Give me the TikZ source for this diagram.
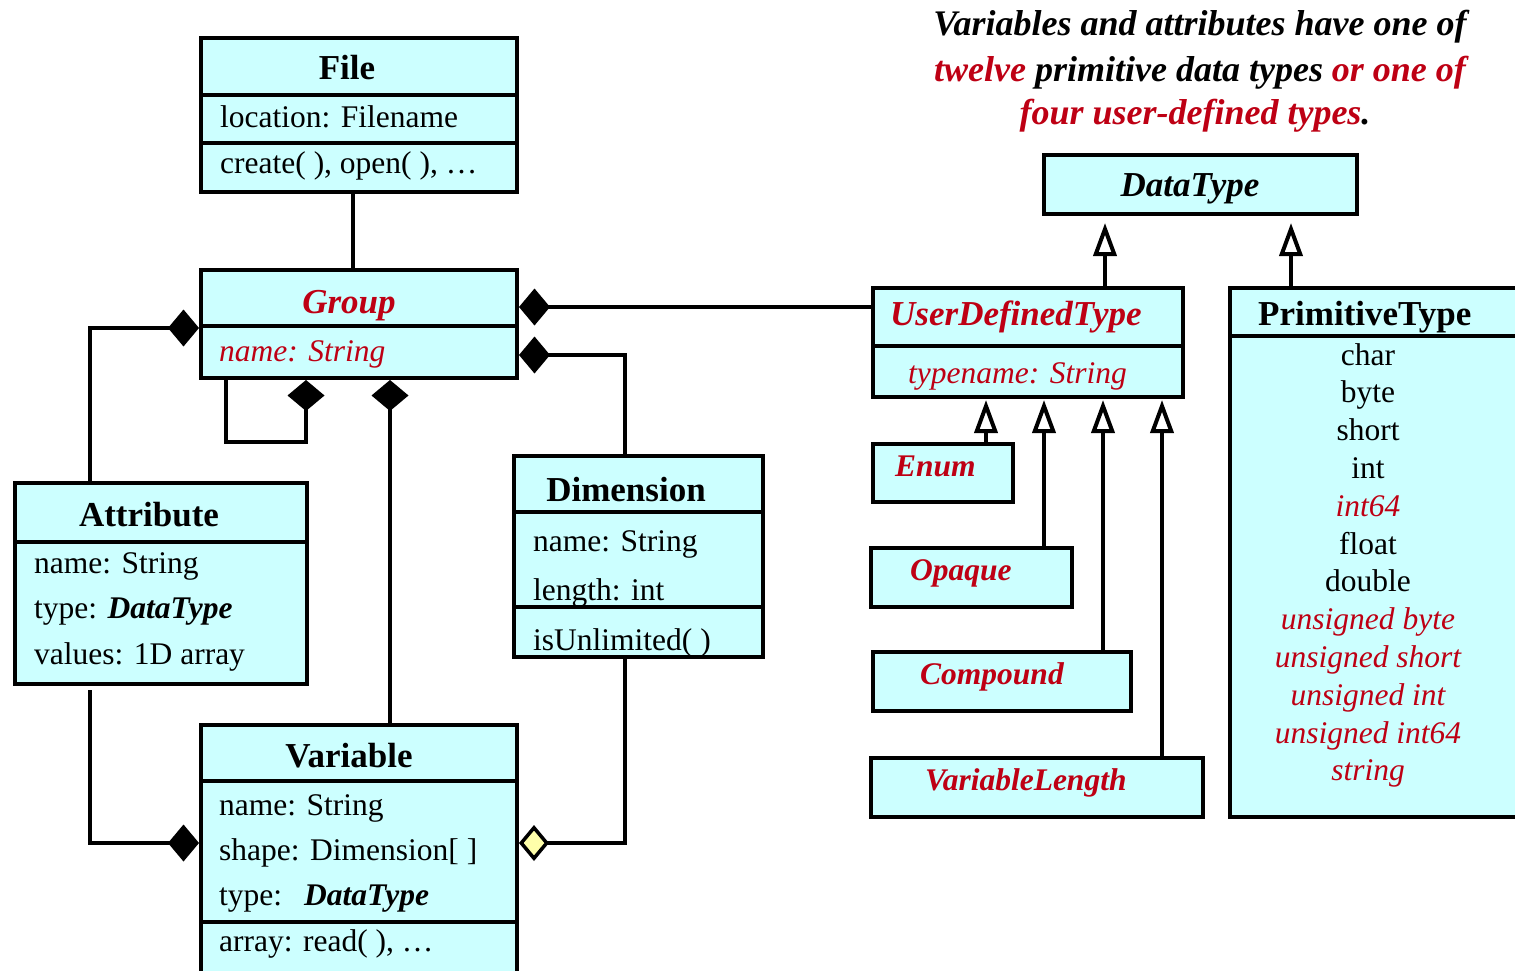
\documentclass[tikz,border=0pt]{standalone}
\usepackage{fontspec}
\setmainfont{Liberation Serif}
\usetikzlibrary{arrows.meta}

\definecolor{umlcyan}{RGB}{204,255,255}
\definecolor{umlred}{RGB}{190,0,20}
\definecolor{aggyellow}{RGB}{255,255,170}

\tikzset{
  box/.style={draw, line width=4pt, fill=umlcyan, anchor=north west, outer sep=0pt, inner sep=0pt},
  clsname/.style={anchor=base, inner sep=0pt, font=\fontsize{35}{40}\selectfont\bfseries},
  clsnameit/.style={clsname, font=\fontsize{35}{40}\selectfont\bfseries\itshape},
  subname/.style={anchor=base west, inner sep=0pt, text=umlred, font=\fontsize{31.5}{38}\selectfont\bfseries\itshape},
  row/.style={anchor=base west, inner sep=0pt, font=\fontsize{31.5}{38}\selectfont},
  rowit/.style={row, text=umlred, font=\fontsize{31.5}{38}\selectfont\itshape},
  prow/.style={anchor=base, inner sep=0pt, font=\fontsize{31.5}{38}\selectfont},
  prowit/.style={prow, text=umlred, font=\fontsize{31.5}{38}\selectfont\itshape},
  notetext/.style={anchor=base, inner sep=0pt, font=\fontsize{36}{45}\selectfont\bfseries\itshape},
  conn/.style={line width=4pt},
  comp/.tip={Diamond[length=31pt,width=37pt]},
  agg/.tip={Diamond[length=30pt,width=36pt,fill=aggyellow,line width=3.5pt]},
  gen/.tip={Triangle[open,length=33pt,width=23pt,line width=4pt]},
}

\begin{document}
\begin{tikzpicture}[x=1pt,y=-1pt]
  \path[use as bounding box, fill=white] (0,0) rectangle (1515,971);

  % class boxes, one node per compartment
  \node[box, minimum width=316pt, minimum height=57pt] (file) at (201,38) {};
  \node[box, minimum width=316pt, minimum height=48pt] (fileattr) at (201,95) {};
  \node[box, minimum width=316pt, minimum height=49pt] (fileops) at (201,143) {};

  \node[box, minimum width=316pt, minimum height=56pt] (grp) at (201,270) {};
  \node[box, minimum width=316pt, minimum height=52pt] (grpattr) at (201,326) {};

  \node[box, minimum width=292pt, minimum height=59pt] (attr) at (15,483) {};
  \node[box, minimum width=292pt, minimum height=142pt] (attrattr) at (15,542) {};

  \node[box, minimum width=249pt, minimum height=56pt] (dim) at (514,456) {};
  \node[box, minimum width=249pt, minimum height=95pt] (dimattr) at (514,512) {};
  \node[box, minimum width=249pt, minimum height=50pt] (dimops) at (514,607) {};

  \node[box, minimum width=316pt, minimum height=56pt] (var) at (201,725) {};
  \node[box, minimum width=316pt, minimum height=141pt] (varattr) at (201,781) {};
  \node[box, minimum width=316pt, minimum height=54pt] (varops) at (201,922) {};

  \node[box, minimum width=313pt, minimum height=59pt] (dtype) at (1044,155) {};

  \node[box, minimum width=310pt, minimum height=58pt] (udt) at (873,288) {};
  \node[box, minimum width=310pt, minimum height=51pt] (udtattr) at (873,346) {};

  \node[box, minimum width=300pt, minimum height=48pt] (prim) at (1230,288) {};
  \node[box, minimum width=300pt, minimum height=481pt] (primattr) at (1230,336) {};

  \node[box, minimum width=140pt, minimum height=58pt] (enum) at (873,444) {};
  \node[box, minimum width=201pt, minimum height=59pt] (opaque) at (871,548) {};
  \node[box, minimum width=258pt, minimum height=59pt] (compound) at (873,652) {};
  \node[box, minimum width=332pt, minimum height=59pt] (varlen) at (871,758) {};

  % associations
  \draw[conn] ([xshift=-6pt]fileops.south) -- ([xshift=-6pt]grp.north);
  \draw[conn, {comp}-, shorten <=2pt] ([yshift=-9pt]grp.east) -- ([yshift=10pt]udt.west);
  \draw[conn, {comp}-, shorten <=2pt] ([yshift=-3pt]grpattr.east) -| ([xshift=-13.5pt]dim.north);
  \draw[conn, -{comp}, shorten >=2pt] ([xshift=25pt]grpattr.south west) -- ++(0,64) -| ([xshift=105pt]grpattr.south west);
  \draw[conn, {comp}-, shorten <=2pt] ([xshift=31pt]grpattr.south) -- ([xshift=31pt]var.north);
  \draw[conn, {comp}-, shorten <=2pt] ([yshift=-2pt]grp.south west) -| ([xshift=-71pt]attr.north);
  \draw[conn, -{comp}, shorten <=6pt, shorten >=2pt] ([xshift=-71pt]attrattr.south) |- ([yshift=8.5pt]varattr.west);
  \draw[conn, -{agg}, shorten >=2pt] ([xshift=-13.5pt]dimops.south) |- ([yshift=8.5pt]varattr.east);

  % generalisations
  \draw[conn, -{gen}, shorten >=9pt] ([xshift=77pt]udt.north) -- ([xshift=-95.5pt]dtype.south);
  \draw[conn, -{gen}, shorten >=9pt] ([xshift=-89pt]prim.north) -- ([xshift=90.5pt]dtype.south);
  \draw[conn, -{gen}, shorten >=3pt] ([xshift=43pt]enum.north) -- ([xshift=-42pt]udtattr.south);
  \draw[conn, -{gen}, shorten >=3pt] ([xshift=72.5pt]opaque.north) -- ([xshift=16pt]udtattr.south);
  \draw[conn, -{gen}, shorten >=3pt] ([xshift=101pt]compound.north) -- ([xshift=75pt]udtattr.south);
  \draw[conn, -{gen}, shorten >=3pt] ([xshift=125pt]varlen.north) -- ([xshift=134pt]udtattr.south);

  % texts
  \node[clsname] (filename) at (347,80) {File};
  \node[row] (fileloc) at (220,128) {location: Filename};
  \node[row] (fileop) at (220,173) {create( ), open( ), …};

  \node[clsnameit, text=umlred] (grpname) at (349,313) {Group};
  \node[rowit] (grpnm) at (219,361) {name: String};

  \node[clsname] (attrname) at (149,526) {Attribute};
  \node[row] (attrnm) at (34,573) {name: String};
  \node[row] (attrtype) at (34,618) {type: \textbf{\textit{DataType}}};
  \node[row] (attrval) at (34,664) {values: 1D array};

  \node[clsname] (dimname) at (626,501) {Dimension};
  \node[row] (dimnm) at (533,551) {name: String};
  \node[row] (dimlen) at (533,600) {length: int};
  \node[row] (dimop) at (533,650) {isUnlimited( )};

  \node[clsname] (varname) at (349,767) {Variable};
  \node[row] (varnm) at (219,815) {name: String};
  \node[row] (varshape) at (219,860) {shape: Dimension[ ]};
  \node[row] (vartype) at (219,905) {type:\hspace{22pt}\textbf{\textit{DataType}}};
  \node[row] (varop) at (219,951) {array: read( ), …};

  \node[clsnameit] (dtypename) at (1190,196) {DataType};
  \node[clsnameit, anchor=base west, text=umlred] (udtname) at (890,325) {UserDefinedType};
  \node[rowit] (udtnm) at (908,383) {typename: String};
  \node[clsname, anchor=base west] (primname) at (1258,325) {PrimitiveType};

  \node[subname] (enumname) at (895,476) {Enum};
  \node[subname] (opaquename) at (910,580) {Opaque};
  \node[subname] (compoundname) at (920,684) {Compound};
  \node[subname] (varlenname) at (925,790) {VariableLength};

  \foreach \t/\s [count=\i from 0] in {char/prow, byte/prow, short/prow, int/prow, int64/prowit,
      float/prow, double/prow, unsigned byte/prowit, unsigned short/prowit,
      unsigned int/prowit, unsigned int64/prowit, string/prowit}
    \node[\s] (ptype\i) at (1368,{365+37.8*\i}) {\t};

  % note
  \node[notetext] (note1) at (1200,36) {Variables and attributes have one of};
  \node[notetext] (note2) at (1200,82) {\textcolor{umlred}{twelve} primitive data types \textcolor{umlred}{or one of}};
  \node[notetext] (note3) at (1195,125) {\textcolor{umlred}{four user-defined types}.};
\end{tikzpicture}
\end{document}
